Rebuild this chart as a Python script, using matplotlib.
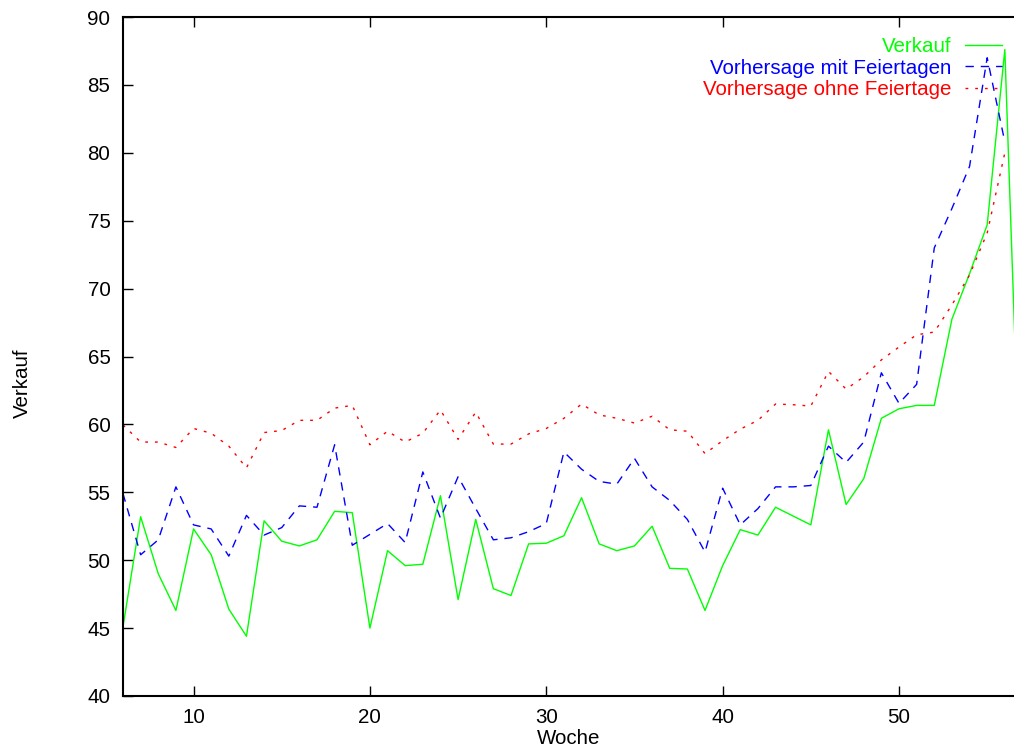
import numpy as np
import matplotlib
matplotlib.use('Agg')
import matplotlib.pyplot as plt

# Woche 6 .. 57 (Vorhersagen enden bei Woche 56)
woche = np.arange(6, 58)

verkauf = [45.1, 53.2, 49.0, 46.3, 52.3, 50.4, 46.4, 44.4, 52.9, 51.4,
           51.05, 51.5, 53.6, 53.5, 45.0, 50.7, 49.6, 49.7, 54.75, 47.1,
           53.0, 47.9, 47.4, 51.2, 51.25, 51.8, 54.6, 51.2, 50.7, 51.05,
           52.5, 49.4, 49.35, 46.3, 49.6, 52.25, 51.85, 53.9, 53.25, 52.6,
           59.6, 54.1, 56.0, 60.45, 61.15, 61.4, 61.4, 67.75, 71.1, 74.7,
           87.6, 50.0]

mit_feiertagen = [54.9, 50.4, 51.5, 55.4, 52.6, 52.3, 50.3, 53.3, 51.85, 52.4,
                  54.0, 53.9, 58.5, 51.1, 51.9, 52.7, 51.3, 56.5, 53.1, 56.15,
                  53.8, 51.5, 51.65, 52.1, 52.7, 57.97, 56.7, 55.8, 55.6, 57.5,
                  55.4, 54.4, 53.0, 50.6, 55.3, 52.6, 53.8, 55.4, 55.4, 55.5,
                  58.4, 57.2, 58.7, 63.8, 61.55, 62.95, 73.0, 75.9, 79.0, 87.0,
                  80.8, np.nan]

ohne_feiertage = [59.96, 58.7, 58.7, 58.3, 59.7, 59.35, 58.4, 56.8, 59.4, 59.55,
                  60.3, 60.3, 61.2, 61.4, 58.5, 59.5, 58.7, 59.35, 61.06, 58.9,
                  60.9, 58.55, 58.55, 59.3, 59.7, 60.45, 61.5, 60.7, 60.45, 60.1,
                  60.6, 59.6, 59.5, 57.85, 58.8, 59.65, 60.3, 61.5, 61.45, 61.35,
                  63.9, 62.6, 63.5, 64.75, 65.7, 66.6, 66.8, 68.8, 71.0, 74.1,
                  80.0, np.nan]

plt.rcParams['font.family'] = ['Liberation Sans', 'DejaVu Sans']
plt.rcParams['font.size'] = 14.8

fig = plt.figure(figsize=(10.14, 7.47), dpi=100)
ax = fig.add_axes([0.1213, 0.0683, 0.8787, 0.9089])

ax.plot(woche, verkauf, color='#00ff00', lw=1.0, label='Verkauf')
ax.plot(woche, mit_feiertagen, color='#0000ff', lw=1.0, dashes=(6, 5),
        label='Vorhersage mit Feiertagen')
ax.plot(woche, ohne_feiertage, color='#ff0000', lw=1.0, dashes=(2, 5),
        label='Vorhersage ohne Feiertage')

ax.set_xlim(6, 56.52)
ax.set_ylim(40, 90)
ax.set_xticks([10, 20, 30, 40, 50])
ax.set_yticks(np.arange(40, 91, 5))
ax.tick_params(axis='x', direction='in', length=7, width=1, top=True, pad=9)
ax.tick_params(axis='y', direction='in', length=7, width=1, right=False, pad=9)
for s in ['left', 'bottom', 'top']:
    ax.spines[s].set_linewidth(1.5)
ax.spines['right'].set_visible(False)

ax.set_xlabel('Woche', labelpad=1)
ax.set_ylabel('Verkauf')
ax.yaxis.set_label_coords(-0.102, 0.461)

ax.legend(loc='upper right', bbox_to_anchor=(0.9865, 0.9705), frameon=False,
          markerfirst=False, labelcolor='linecolor', handlelength=1.81,
          handletextpad=0.64, labelspacing=0.12, borderaxespad=0, borderpad=0)

fig.savefig('out.png', dpi=100)
